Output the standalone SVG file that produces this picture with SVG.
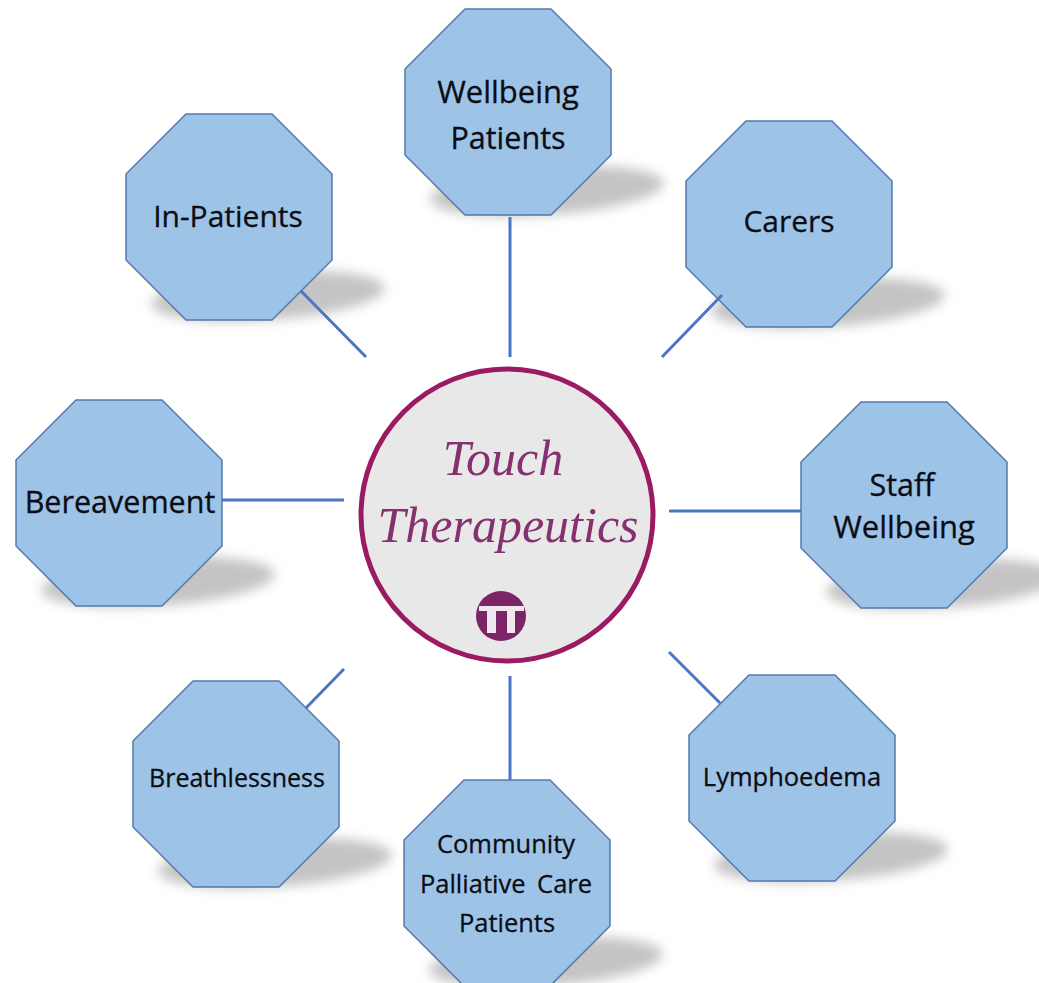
<svg xmlns="http://www.w3.org/2000/svg" width="1039" height="983" viewBox="0 0 1039 983">
<style>
.oct{fill:#9dc3e6;stroke:#5379ad;stroke-width:1.5}
.sh{fill:#c4c4c4;filter:url(#b)}
.t{font-family:"Open Sans","Liberation Sans",sans-serif;fill:#0c0c14;stroke:#0c0c14;stroke-width:.3;text-anchor:middle}
.c{stroke:#4a76c6;stroke-width:3;fill:none}
.s{font-family:"Liberation Serif",serif;font-style:italic;fill:#86306f;text-anchor:middle}
</style>
<defs>
<filter id="b" x="-20%" y="-60%" width="140%" height="220%"><feGaussianBlur stdDeviation="6"/></filter>
<g id="o"><ellipse class="sh" cx="142" cy="182" rx="117" ry="24" transform="rotate(-4 142 182)"/><path class="oct" d="M60 0H146L206 60V146L146 206H60L0 146V60Z"/></g>
</defs>
<rect width="1039" height="983" fill="#fff"/>
<g id="wellbeing" transform="translate(405,9)"><use href="#o"/><text class="t" font-size="31" x="103" y="94">Wellbeing</text><text class="t" font-size="30.5" x="103" y="140">Patients</text></g>
<g id="carers" transform="translate(686,121)"><use href="#o"/><text class="t" font-size="30" x="103" y="111">Carers</text></g>
<g id="inpatients" transform="translate(126,114)"><use href="#o"/><text class="t" font-size="30" x="102" y="113">In-Patients</text></g>
<g id="bereavement" transform="translate(16,400)"><use href="#o"/><text class="t" font-size="30.5" x="104" y="113">Bereavement</text></g>
<g id="staff" transform="translate(801,402)"><use href="#o"/><text class="t" font-size="30.5" x="101" y="94">Staff</text><text class="t" font-size="31" x="103" y="136">Wellbeing</text></g>
<g id="breathlessness" transform="translate(133,681)"><use href="#o"/><text class="t" font-size="25" x="104" y="106">Breathlessness</text></g>
<g id="community" transform="translate(404,780)"><use href="#o"/><text class="t" font-size="25.5" x="102" y="73">Community</text><text class="t" font-size="25.5" word-spacing="5" x="102" y="113">Palliative Care</text><text class="t" font-size="25.5" x="103" y="152">Patients</text></g>
<g id="lymphoedema" transform="translate(689,675)"><use href="#o"/><text class="t" font-size="25.5" x="103" y="111">Lymphoedema</text></g>
<g id="connectors">
<path class="c" d="M510 217V357M301 291L366 357M722 295L662 357M222 500H344M669 511H801M344 669L306 708M510 676V780M669 652L720 703"/>
</g>
<g id="centre">
<circle cx="507" cy="515" r="146" fill="#e8e8e8" stroke="#9b1b63" stroke-width="5"/>
<text class="s" font-size="50" x="503" y="475">Touch</text>
<text class="s" font-size="50" x="508" y="542">Therapeutics</text>
<circle cx="501" cy="616" r="25" fill="#7b2466"/>
<path fill="#f0e8ee" d="M479 606H524V611H515V633H507V611H496V633H487V611H479Z"/>
</g>
</svg>
